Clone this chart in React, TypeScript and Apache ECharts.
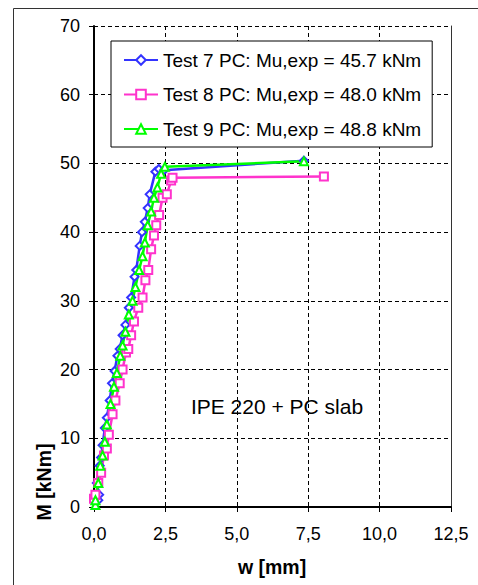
import React, { useEffect, useRef } from "react";
import * as echarts from "echarts";

const xTicks = [0, 2.5, 5, 7.5, 10, 12.5];
const yTicks = [0, 10, 20, 30, 40, 50, 60, 70];

const seriesNames = [
  "Test 7 PC: Mu,exp = 45.7 kNm",
  "Test 8 PC: Mu,exp = 48.0 kNm",
  "Test 9 PC: Mu,exp = 48.8 kNm",
];

const test7: [number, number][] = [
  [0.15, 1.0], [0.18, 1.8], [0.1, 3.5], [0.2, 6.0], [0.25, 7.2], [0.3, 9.0],
  [0.38, 11.5], [0.45, 13.0], [0.55, 15.5], [0.63, 18.0], [0.72, 19.8],
  [0.82, 22.0], [0.9, 23.0], [1.0, 25.0], [1.1, 26.5], [1.22, 29.0],
  [1.3, 30.5], [1.42, 33.5], [1.48, 34.5], [1.6, 38.0], [1.68, 40.0],
  [1.78, 41.5], [1.88, 43.5], [1.95, 45.5], [2.15, 48.8], [2.27, 49.2],
  [2.45, 49.0], [7.35, 50.4],
];

const test8: [number, number][] = [
  [0.0, 1.2], [0.05, 1.8], [0.15, 3.5], [0.25, 5.0], [0.35, 7.5], [0.45, 8.5],
  [0.52, 10.5], [0.65, 13.5], [0.75, 15.5], [0.9, 18.0], [1.0, 20.0],
  [1.12, 22.5], [1.2, 23.0], [1.3, 25.0], [1.4, 27.0], [1.55, 29.0],
  [1.7, 30.5], [1.8, 33.0], [1.9, 34.5], [2.0, 37.5], [2.1, 39.5],
  [2.18, 41.0], [2.28, 42.5], [2.4, 45.0], [2.55, 45.5], [2.7, 47.5],
  [2.75, 47.9], [8.05, 48.1],
];

const test9: [number, number][] = [
  [0.05, 0.3], [0.05, 1.0], [0.15, 3.5], [0.22, 6.0], [0.3, 7.5], [0.38, 9.5],
  [0.45, 12.0], [0.58, 15.0], [0.7, 17.5], [0.8, 19.5], [0.92, 22.0],
  [1.0, 23.5], [1.1, 25.5], [1.22, 28.0], [1.35, 30.0], [1.45, 32.0],
  [1.58, 34.5], [1.7, 36.5], [1.78, 38.5], [1.88, 41.0], [2.0, 43.0],
  [2.1, 45.0], [2.22, 46.5], [2.35, 48.5], [2.48, 49.5], [7.35, 50.3],
];

const colors = ["#3333ff", "#ff33cc", "#00ff00"];
const symbols = ["emptyDiamond", "emptyRect", "emptyTriangle"];
const datasets = [test7, test8, test9];

const FONT = "Liberation Sans, Arial, sans-serif";

export default function App() {
  const ref = useRef<HTMLDivElement>(null);
  useEffect(() => {
    if (!ref.current) return;
    const chart = echarts.init(ref.current, null, { renderer: "svg" });
    chart.setOption({
      animation: false,
      backgroundColor: "#ffffff",
      textStyle: { fontFamily: FONT },
      grid: { left: 94, right: 27, top: 26, bottom: 78 },
      legend: {
        orient: "vertical",
        left: 111,
        top: 41,
        padding: [9, 11, 8, 12],
        itemWidth: 34,
        itemHeight: 12,
        itemGap: 14.5,
        backgroundColor: "#ffffff",
        borderColor: "#000000",
        borderWidth: 1,
        borderRadius: 0,
        textStyle: { fontFamily: FONT, fontSize: 19, color: "#000", lineHeight: 20 },
        data: seriesNames,
      },
      xAxis: {
        type: "value",
        min: xTicks[0],
        max: xTicks[xTicks.length - 1],
        interval: 2.5,
        axisLine: { show: true, onZero: false, lineStyle: { color: "#000", width: 2 } },
        axisTick: { show: true, length: 5, lineStyle: { color: "#000", width: 1 } },
        axisLabel: {
          margin: 18,
          fontSize: 18,
          fontFamily: FONT,
          color: "#000",
          formatter: (v: number) => v.toFixed(1).replace(".", ","),
        },
        splitLine: { show: true, lineStyle: { color: "#000", type: [4, 3], width: 1 } },
      },
      yAxis: [
        {
          type: "value",
          min: yTicks[0],
          max: yTicks[yTicks.length - 1],
          interval: 10,
          axisLine: { show: true, onZero: false, lineStyle: { color: "#000", width: 2 } },
          axisTick: { show: true, length: 5, lineStyle: { color: "#000", width: 1 } },
          axisLabel: { margin: 14, fontSize: 18, fontFamily: FONT, color: "#000" },
          splitLine: { show: true, lineStyle: { color: "#000", type: [4, 3], width: 1 } },
        },
        {
          type: "value",
          position: "right",
          min: 0,
          max: 70,
          interval: 10,
          axisLine: { show: true, onZero: false, lineStyle: { color: "#333", width: 1 } },
          axisTick: { show: false },
          axisLabel: { show: false },
          splitLine: { show: false },
        },
      ],
      graphic: [
        {
          type: "rect",
          shape: { x: 13.5, y: 8.5, width: 600, height: 700 },
          style: { fill: "none", stroke: "#333", lineWidth: 1 },
          silent: true,
        },
        {
          type: "text",
          x: 277,
          y: 406,
          style: {
            text: "IPE 220 + PC slab",
            fontFamily: FONT,
            fontSize: 21,
            fill: "#000",
            align: "center",
            verticalAlign: "middle",
          },
        },
        {
          type: "text",
          x: 272,
          y: 567,
          style: {
            text: "w [mm]",
            fontFamily: FONT,
            fontSize: 19.5,
            fontWeight: "bold",
            fill: "#000",
            align: "center",
            verticalAlign: "middle",
          },
        },
        {
          type: "text",
          x: 44,
          y: 482,
          rotation: Math.PI / 2,
          style: {
            text: "M [kNm]",
            fontFamily: FONT,
            fontSize: 19.5,
            fontWeight: "bold",
            fill: "#000",
            align: "center",
            verticalAlign: "middle",
          },
        },
      ],
      series: datasets.map((d, i) => ({
        name: seriesNames[i],
        type: "line",
        data: d,
        symbol: symbols[i],
        symbolSize: 8,
        showAllSymbol: true,
        lineStyle: { color: colors[i], width: 2.5 },
        itemStyle: { color: colors[i], borderColor: colors[i], borderWidth: 1.2 },
      })),
    });
    return () => chart.dispose();
  }, []);
  return (
    <div
      ref={ref}
      style={{ position: "absolute", left: 0, top: 0, width: 478, height: 585 }}
    />
  );
}
